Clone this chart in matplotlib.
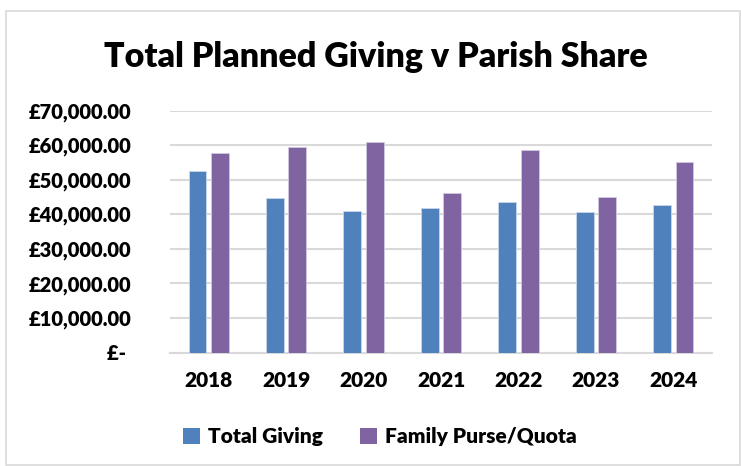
import matplotlib
matplotlib.use('Agg')
import matplotlib.pyplot as plt
import numpy as np
from matplotlib.patches import Rectangle, Patch
from matplotlib.ticker import FuncFormatter

# values
years = ['2018', '2019', '2020', '2021', '2022', '2023', '2024']
total_giving = [52550, 44810, 41040, 41740, 43570, 40670, 42610]
family_purse = [57680, 59510, 60760, 46170, 58640, 45010, 55070]
y_ticks = [0, 10000, 20000, 30000, 40000, 50000, 60000, 70000]

BLUE = '#4F81BD'
PURPLE = '#8064A2'
GRID = '#d9d9d9'
WEIGHT = 'heavy'

plt.rcParams['font.family'] = ['Lato', 'DejaVu Sans']
plt.rcParams['font.weight'] = WEIGHT

W, H = 741, 466
fig = plt.figure(figsize=(W / 100, H / 100), dpi=100)

# chart border
fig.patches.append(Rectangle((6 / W, 1 / H), 734 / W, 454 / H, transform=fig.transFigure,
                             facecolor='none', edgecolor=GRID, linewidth=1.2))

ax = fig.add_axes([170 / W, 1 - 352.5 / H, (712 - 170) / W, (352.5 - 110.5) / H])

x = np.arange(len(years))
w = 0.23
off = 0.145
ax.bar(x - off, total_giving, w, color=BLUE, edgecolor='#c9d6ea', linewidth=0.6, zorder=3)
ax.bar(x + off, family_purse, w, color=PURPLE, edgecolor='#d3c8e0', linewidth=0.6, zorder=3)

ax.set_xlim(-0.5, len(years) - 0.5)
ax.set_ylim(0, 70000)
ax.set_yticks(y_ticks)


def money(v, pos):
    if v == 0:
        return '£- '
    return f'£{v:,.2f}'


ax.yaxis.set_major_formatter(FuncFormatter(money))
ax.set_xticks(x)
ax.set_xticklabels(years)
ax.tick_params(axis='y', length=0, pad=28, labelsize=14.5)
ax.tick_params(axis='x', length=0, pad=13, labelsize=15)
for t in ax.get_xticklabels() + ax.get_yticklabels():
    t.set_fontweight(WEIGHT)

ax.grid(True, axis='y', color=GRID, linewidth=1.5, zorder=0)
ax.set_axisbelow(True)
for s in ['top', 'right', 'left']:
    ax.spines[s].set_visible(False)
ax.spines['bottom'].set_color(GRID)
ax.spines['bottom'].set_linewidth(1.5)

fig.text(376 / W, 1 - 57 / H, 'Total Planned Giving v Parish Share', ha='center', va='center',
         fontsize=24.5, fontweight=WEIGHT)

handles = [Patch(facecolor=BLUE, label='Total Giving'),
           Patch(facecolor=PURPLE, label='Family Purse/Quota')]
fig.legend(handles=handles, loc='center', bbox_to_anchor=(380 / W, 1 - 437 / H), ncol=2,
           frameon=False, fontsize=15, handlelength=0.8, handleheight=0.8,
           handletextpad=0.4, columnspacing=1.8, prop={'weight': WEIGHT, 'size': 15})

fig.savefig('out.png', dpi=100)
